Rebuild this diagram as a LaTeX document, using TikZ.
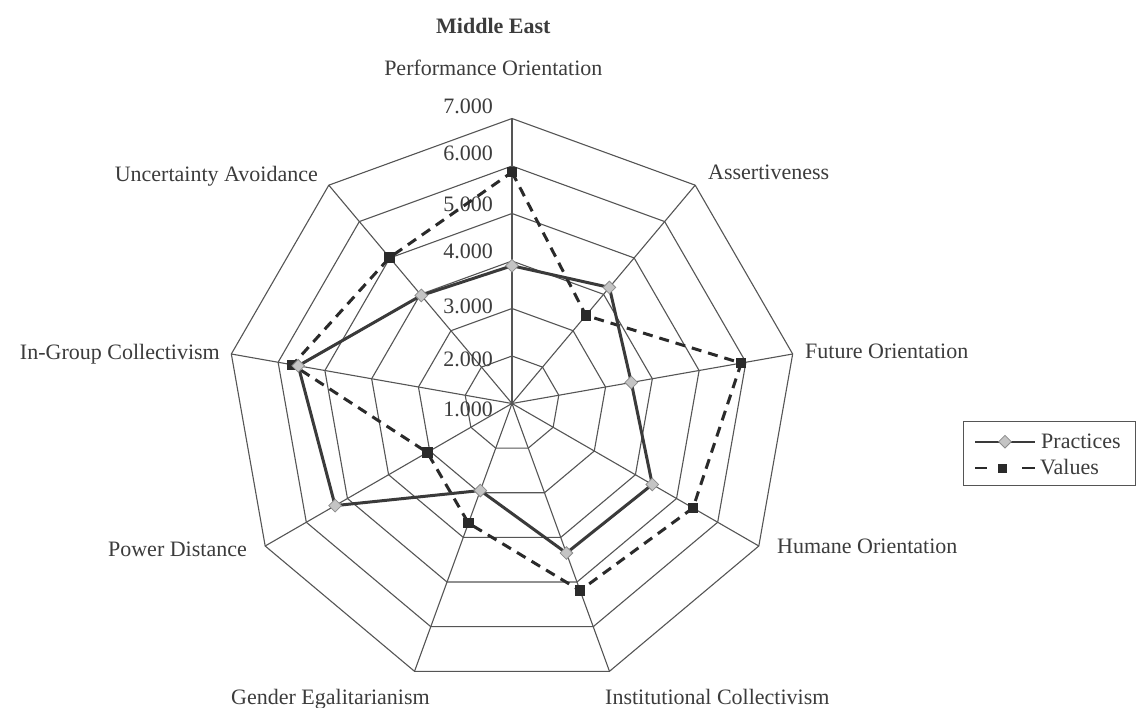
\documentclass[tikz,border=0pt]{standalone}
\usepackage{fontspec}
\setmainfont{Liberation Serif}
\usetikzlibrary{shapes.geometric}
\definecolor{ink}{HTML}{3C3C3C}
\definecolor{gridgray}{HTML}{555555}
\definecolor{practline}{HTML}{3A3A3A}
\definecolor{valline}{HTML}{2A2A2A}
\definecolor{diamfill}{HTML}{C4C4C4}
\definecolor{diamedge}{HTML}{8C8C8C}
\begin{document}
\begin{tikzpicture}[x=1pt,y=-1pt,
  font=\fontsize{22}{26}\selectfont, text=ink,
  grid/.style={draw=gridgray, line width=1.1pt},
  label/.style={inner sep=0pt},
  tick/.style={inner sep=0pt, anchor=base east},
  practice/.style={draw=practline, line width=3pt, line join=round},
  values/.style={draw=valline, line width=3pt, dash pattern=on 10pt off 7pt},
  diamondmark/.style={diamond, draw=diamedge, fill=diamfill, line width=0.8pt,
    minimum width=13pt, minimum height=13pt, inner sep=0pt},
  squaremark/.style={rectangle, fill=valline, minimum size=10.5pt, inner sep=0pt},
  legendbox/.style={draw=gridgray, line width=1.4pt, minimum width=172pt,
    minimum height=64pt, inner sep=0pt, anchor=north west}]
\clip (0,0) rectangle (1136,708);
\fill[white] (0,0) rectangle (1136,708);

% title and axis names
\node[label, anchor=base] (title) at (493.3,34) {\textbf{Middle East}};
\node[label, anchor=base] (lPO) at (493.3,75.5) {Performance Orientation};
\node[label, anchor=base west] (lAS) at (708,180) {Assertiveness};
\node[label, anchor=base west] (lFO) at (805,359) {Future Orientation};
\node[label, anchor=base west] (lHO) at (777,553) {Humane Orientation};
\node[label, anchor=base west] (lIC) at (605,704) {Institutional Collectivism};
\node[label, anchor=base west] (lGE) at (231,704) {Gender Egalitarianism};
\node[label, anchor=base east] (lPD) at (247,557) {Power Distance};
\node[label, anchor=base east] (lIG) at (220,360) {In-Group Collectivism};
\node[label, anchor=base east] (lUA) at (318,182) {Uncertainty Avoidance};

% web: nine spokes and six nonagon rings, scale 1 to 7
\begin{scope}[shift={(512,403.5)}, yscale=-1]
  \coordinate (hub) at (0,0);
  \foreach \k in {0,...,8}
    \draw[grid] (hub) -- ({90-40*\k}:285);
  \foreach \r in {1,...,6}
    \draw[grid] (90:{\r*47.5}) \foreach \k in {1,...,8}{ -- ({90-40*\k}:{\r*47.5})} -- cycle;
\end{scope}

% scale labels
\node[tick] (t1) at (493,417) {1.000};
\node[tick] (t2) at (493,367) {2.000};
\node[tick] (t3) at (493,313.7) {3.000};
\node[tick] (t4) at (493,258.7) {4.000};
\node[tick] (t5) at (493,212) {5.000};
\node[tick] (t6) at (493,161) {6.000};
\node[tick] (t7) at (493,114) {7.000};

% data series
\begin{scope}[shift={(512,403.5)}, yscale=-1]
  \foreach \v [count=\i from 0] in {3.90,4.19,3.55,4.41,4.35,2.95,5.30,5.57,3.97}
    \coordinate (p\i) at ({90-40*\i}:{(\v-1)*47.5});
  \foreach \v [count=\i from 0] in {5.87,3.42,5.90,5.40,5.19,3.68,3.06,5.69,5.01}
    \coordinate (v\i) at ({90-40*\i}:{(\v-1)*47.5});
  \draw[values] (v0) -- (v1) -- (v2) -- (v3) -- (v4) -- (v5) -- (v6) -- (v7) -- (v8) -- cycle;
  \draw[practice] (p0) -- (p1) -- (p2) -- (p3) -- (p4) -- (p5) -- (p6) -- (p7) -- (p8) -- cycle;
  \foreach \i in {0,...,8} {
    \node[squaremark] (vm\i) at (v\i) {};
    \node[diamondmark] (pm\i) at (p\i) {};
  }
\end{scope}

% legend
\node[legendbox] (legend) at (963,421) {};
\coordinate (la) at (975,441.7);
\coordinate (lb) at (1035,441.7);
\draw[draw=practline, line width=2pt] (la) -- (lb);
\node[diamondmark] (lgp) at (1005,441.7) {};
\node[label, anchor=base west] (lgpt) at (1041,449) {Practices};
\coordinate (lc) at (975,468.3);
\coordinate (ld) at (1035,468.3);
\draw[draw=valline, line width=2pt, dash pattern=on 12pt off 35pt on 13pt off 10pt] (lc) -- (ld);
\node[squaremark, minimum size=9pt] (lgv) at (1002,468.3) {};
\node[label, anchor=base west] (lgvt) at (1040,475) {Values};
\end{tikzpicture}
\end{document}
